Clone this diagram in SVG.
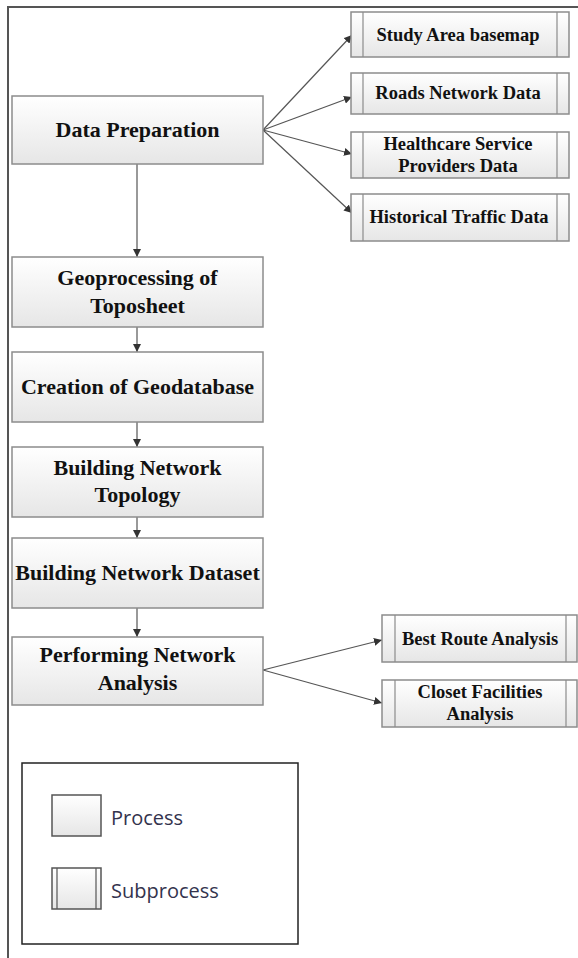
<svg xmlns="http://www.w3.org/2000/svg" width="578" height="958" viewBox="0 0 578 958">
<defs>
<linearGradient id="g" x1="0" y1="0" x2="0" y2="1">
<stop offset="0" stop-color="#ffffff"/>
<stop offset="1" stop-color="#e6e6e6"/>
</linearGradient>
<marker id="ah" viewBox="0 0 10 10" refX="10" refY="5" markerWidth="8" markerHeight="8" markerUnits="userSpaceOnUse" orient="auto">
<path d="M0,0 L10,5 L0,10 z" fill="#333"/>
</marker>
</defs>
<style>
.box{fill:url(#g);stroke:#8c8c8c;stroke-width:1.5}
.in{stroke:#8c8c8c;stroke-width:1.2;fill:none}
.t{font-family:"Liberation Serif","Times New Roman",serif;font-weight:bold;font-size:22px;fill:#111;text-anchor:middle}
.s{font-family:"Liberation Serif","Times New Roman",serif;font-weight:bold;font-size:18.5px;fill:#111;text-anchor:middle}
.c{stroke:#555;stroke-width:1.2;fill:none;marker-end:url(#ah)}
.lg{font-family:"Open Sans","Noto Sans",sans-serif;font-size:20px;fill:#33334d}
</style>
<rect width="578" height="958" fill="#ffffff"/>
<path d="M8,958 V7 H578" fill="none" stroke="#555" stroke-width="2"/>

<g id="connectors">
<path class="c" d="M137,164 V257"/>
<path class="c" d="M137,327 V352"/>
<path class="c" d="M137,422 V447"/>
<path class="c" d="M137,517 V538"/>
<path class="c" d="M137,608 V637"/>
<path class="c" d="M263,130 L352,35"/>
<path class="c" d="M263,130 L352,97"/>
<path class="c" d="M263,130 L352,154"/>
<path class="c" d="M263,130 L352,213"/>
<path class="c" d="M263,670 L382,640"/>
<path class="c" d="M263,670 L382,703"/>
</g>

<g id="n-data-preparation">
<rect class="box" x="12" y="96" width="251" height="68"/>
<text class="t" x="137.5" y="137">Data Preparation</text>
</g>
<g id="n-geoprocessing">
<rect class="box" x="12" y="257" width="251" height="70"/>
<text class="t" x="137.5" y="285">Geoprocessing of</text>
<text class="t" x="137.5" y="313">Toposheet</text>
</g>
<g id="n-geodatabase">
<rect class="box" x="12" y="352" width="251" height="70"/>
<text class="t" x="137.5" y="394">Creation of Geodatabase</text>
</g>
<g id="n-topology">
<rect class="box" x="12" y="447" width="251" height="70"/>
<text class="t" x="137.5" y="475">Building Network</text>
<text class="t" x="137.5" y="502">Topology</text>
</g>
<g id="n-dataset">
<rect class="box" x="12" y="538" width="251" height="70"/>
<text class="t" x="137.5" y="580">Building Network Dataset</text>
</g>
<g id="n-analysis">
<rect class="box" x="12" y="637" width="251" height="68"/>
<text class="t" x="137.5" y="662">Performing Network</text>
<text class="t" x="137.5" y="690">Analysis</text>
</g>

<g id="n-study-area">
<rect class="box" x="351" y="12" width="218" height="45"/>
<path class="in" d="M363,12 V57 M557,12 V57"/>
<text class="s" x="458" y="41">Study Area basemap</text>
</g>
<g id="n-roads">
<rect class="box" x="351" y="73" width="218" height="41"/>
<path class="in" d="M363,73 V114 M557,73 V114"/>
<text class="s" x="458" y="99">Roads Network Data</text>
</g>
<g id="n-healthcare">
<rect class="box" x="351" y="132" width="218" height="46"/>
<path class="in" d="M363,132 V178 M557,132 V178"/>
<text class="s" x="458" y="150">Healthcare Service</text>
<text class="s" x="458" y="172">Providers Data</text>
</g>
<g id="n-traffic">
<rect class="box" x="351" y="194" width="218" height="47"/>
<path class="in" d="M363,194 V241 M557,194 V241"/>
<text class="s" x="459" y="223">Historical Traffic Data</text>
</g>
<g id="n-best-route">
<rect class="box" x="382" y="615" width="195" height="47"/>
<path class="in" d="M395,615 V662 M566,615 V662"/>
<text class="s" x="480" y="645">Best Route Analysis</text>
</g>
<g id="n-closest">
<rect class="box" x="382" y="680" width="195" height="47"/>
<path class="in" d="M395,680 V727 M566,680 V727"/>
<text class="s" x="480" y="698">Closet Facilities</text>
<text class="s" x="480" y="720">Analysis</text>
</g>

<g id="legend">
<rect x="22" y="763" width="276" height="181" fill="#fff" stroke="#222" stroke-width="1.5"/>
<rect class="box" x="52" y="795" width="49" height="41" style="stroke:#555"/>
<text class="lg" x="111" y="825">Process</text>
<rect class="box" x="52" y="868" width="49" height="41" style="stroke:#555"/>
<path class="in" d="M57,868 V909 M96,868 V909" style="stroke:#555"/>
<text class="lg" x="111" y="898">Subprocess</text>
</g>
</svg>
